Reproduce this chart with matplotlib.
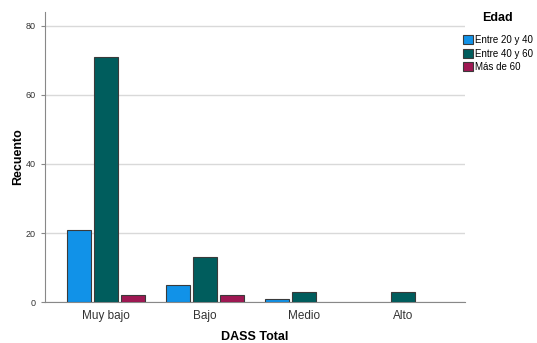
import matplotlib
matplotlib.use("Agg")
import matplotlib.pyplot as plt
import numpy as np
from matplotlib.patches import Patch

categories = ["Muy bajo", "Bajo", "Medio", "Alto"]
series_names = ["Entre 20 y 40", "Entre 40 y 60", "Más de 60"]
entre_20_40 = [21, 5, 1, 0]
entre_40_60 = [71, 13, 3, 3]
mas_60 = [2, 2, 0, 0]
colors = ["#1192E8", "#005D5D", "#9F1853"]
values = [entre_20_40, entre_40_60, mas_60]

plt.rcParams['font.family'] = ['Liberation Sans', 'DejaVu Sans']
fig = plt.figure(figsize=(5.37, 3.43), dpi=100)
ax = fig.add_axes([0.0838, 0.1195, 0.782, 0.845])

x = np.arange(len(categories))
offsets = [-0.27, 0, 0.27]
w = 0.245
for vals, off, c in zip(values, offsets, colors):
    for xi, v in zip(x, vals):
        if v > 0:
            ax.bar(xi + off, v, width=w, color=c, edgecolor="#3a3a3a", linewidth=0.8, zorder=3)

ax.set_xlim(-0.616, 3.626)
ax.set_ylim(0, 84)
ax.set_yticks([0, 20, 40, 60, 80])
ax.set_xticks(x)
ax.set_xticklabels(categories, fontsize=8.5, color="#333333")
ax.tick_params(axis="y", labelsize=6.5, colors="#333333", length=3, color="#888888")
ax.tick_params(axis="x", length=0, pad=6)
ax.yaxis.grid(True, color="#d9d9d9", linewidth=1.0, zorder=0)
for s in ["top", "right"]:
    ax.spines[s].set_visible(False)
ax.spines["left"].set_color("#888888")
ax.spines["bottom"].set_color("#888888")
ax.set_ylabel("Recuento", fontsize=9, fontweight="bold")
ax.yaxis.set_label_coords(-0.064, 0.5)
ax.set_xlabel("DASS Total", fontsize=9, fontweight="bold")
ax.xaxis.set_label_coords(0.5, -0.12)
ax.xaxis.label.set_va("center")
ax.yaxis.label.set_va("center")

handles = [Patch(facecolor=c, edgecolor="#3a3a3a", linewidth=0.8) for c in colors]
leg = fig.legend(handles, series_names, loc="upper left", bbox_to_anchor=(0.862, 0.965),
                 title="Edad", fontsize=7, title_fontproperties={"weight": "bold", "size": 9},
                 frameon=False, handlelength=1.0, handleheight=1.0, handletextpad=0.2,
                 labelspacing=0.35, borderaxespad=0, borderpad=0)
leg._legend_box.sep = 8
fig.savefig("out.png", dpi=100)
